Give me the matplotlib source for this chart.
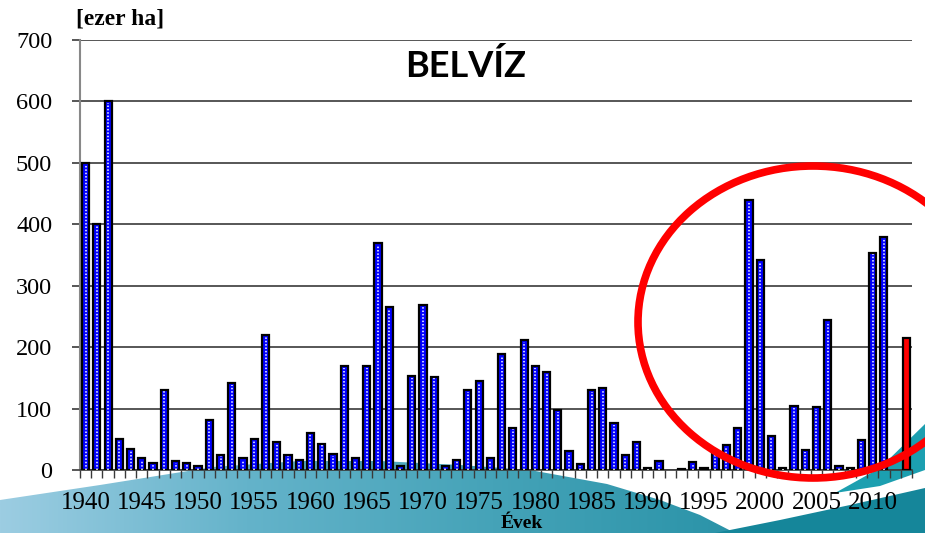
import numpy as np
import matplotlib
matplotlib.use("Agg")
import matplotlib.pyplot as plt
from matplotlib.patches import Polygon, Ellipse

# area flooded by inland water, thousand ha, per year
years = list(range(1940, 2014))
area = [500, 400, 600, 50, 35, 20, 12, 131, 14, 11,
        7, 81, 25, 142, 19, 50, 220, 45, 25, 16,
        61, 43, 26, 169, 19, 169, 369, 265, 6, 153,
        269, 152, 7, 17, 130, 145, 20, 189, 69, 211,
        169, 159, 98, 31, 10, 130, 133, 76, 24, 46,
        4, 15, 0, 2, 13, 3, 30, 40, 68, 440,
        342, 55, 4, 105, 32, 103, 244, 7, 4, 49,
        354, 380, 0, 215]
highlight_year = 2013
label_years = list(range(1940, 2011, 5))
y_ticks = [0, 100, 200, 300, 400, 500, 600, 700]

W, H = 925, 533
fig = plt.figure(figsize=(W / 100, H / 100), dpi=100)
fig.patch.set_facecolor("white")

# background swooshes of the slide template (pixel coords)
bg = fig.add_axes([0, 0, 1, 1], zorder=0)
bg.set_xlim(0, W)
bg.set_ylim(H, 0)
bg.axis("off")

swoosh_a = [(0, 500), (100, 485), (213, 467), (300, 461), (380, 461), (460, 465),
            (530, 470), (607, 484), (660, 500), (700, 515), (735, 533), (0, 533)]
grad = np.linspace(0, 1, 256).reshape(1, -1)
cmap = matplotlib.colors.LinearSegmentedColormap.from_list(
    "sw", ["#9ccde2", "#64b3ca", "#45a3b8", "#2a93a8"])
im = bg.imshow(grad, extent=[0, 740, 533, 455], aspect="auto", cmap=cmap, zorder=1)
pa = Polygon(swoosh_a, closed=True, facecolor="none", edgecolor="none")
bg.add_patch(pa)
im.set_clip_path(pa)

swoosh_b = [(715, 533), (780, 520), (850, 505), (925, 488), (925, 533)]
bg.add_patch(Polygon(swoosh_b, closed=True, facecolor="#15869a", edgecolor="none", zorder=2))
swoosh_c = [(835, 493), (880, 468), (925, 424), (925, 470), (880, 486)]
bg.add_patch(Polygon(swoosh_c, closed=True, facecolor="#1c9fb0", edgecolor="none", zorder=2))

# main chart
ax = fig.add_axes([80 / W, 1 - 470 / H, (912 - 80) / W, (470 - 40) / H], zorder=1)
ax.set_facecolor("none")

x = np.arange(len(years))
vals = np.array(area, dtype=float)
is_hl = np.array([y == highlight_year for y in years])
show = vals > 0

blue = show & ~is_hl
red = show & is_hl
ax.bar(x[blue], vals[blue], width=0.64, color="#0000ff", edgecolor="black",
       linewidth=1.6, zorder=3)
ax.vlines(x[blue], 0, vals[blue] - 3, colors="white", linewidth=1.1,
          linestyles=(0, (1, 1.2)), zorder=4)
ax.bar(x[red], vals[red], width=0.64, color="#ff0000", edgecolor="black",
       linewidth=1.6, zorder=3)

ax.set_xlim(-0.5, len(years) - 0.5)
ax.set_ylim(0, 700)
ax.set_yticks(y_ticks)
ax.set_yticklabels([str(v) for v in y_ticks], fontsize=17.5, family="Liberation Serif")
ax.yaxis.grid(True, color="#3a3a3a", linewidth=1.2, zorder=0)
ax.set_axisbelow(True)
ax.tick_params(axis="y", length=6, width=1.2, color="#3a3a3a", pad=14)

ax.set_xticks(np.arange(len(years) + 1) - 0.5)
ax.set_xticklabels([])
ax.set_xticks([years.index(y) for y in label_years], minor=True)
ax.set_xticklabels([str(y) for y in label_years], minor=True, fontsize=18,
                   family="Liberation Serif")
ax.tick_params(axis="x", which="major", length=6, width=1, color="#3a3a3a")
ax.tick_params(axis="x", which="minor", length=0, pad=16)

for s in ["top", "right"]:
    ax.spines[s].set_visible(False)
ax.spines["left"].set_color("#888888")
ax.spines["left"].set_linewidth(1.5)
ax.spines["bottom"].set_color("#3a3a3a")
ax.spines["bottom"].set_linewidth(1.2)

fig.text(76 / W, 1 - 19 / H, "[ezer ha]", fontsize=17, fontweight="bold",
         family="Liberation Serif", ha="left", va="center")
fig.text(466 / W, 1 - 66 / H, "BELVÍZ", fontsize=26, fontweight="bold",
         family="Lato", ha="center", va="center")
fig.text(522 / W, 1 - 523 / H, "Évek", fontsize=14, fontweight="bold",
         family="Liberation Serif", ha="center", va="center")

# red circle marking the last years
ring = Ellipse((813 / W, 1 - 322 / H), 350 / W, 312 / H, transform=fig.transFigure,
               facecolor="none", edgecolor="#ff0000", linewidth=5.5, zorder=5)
fig.add_artist(ring)

fig.savefig("out.png", dpi=100)
